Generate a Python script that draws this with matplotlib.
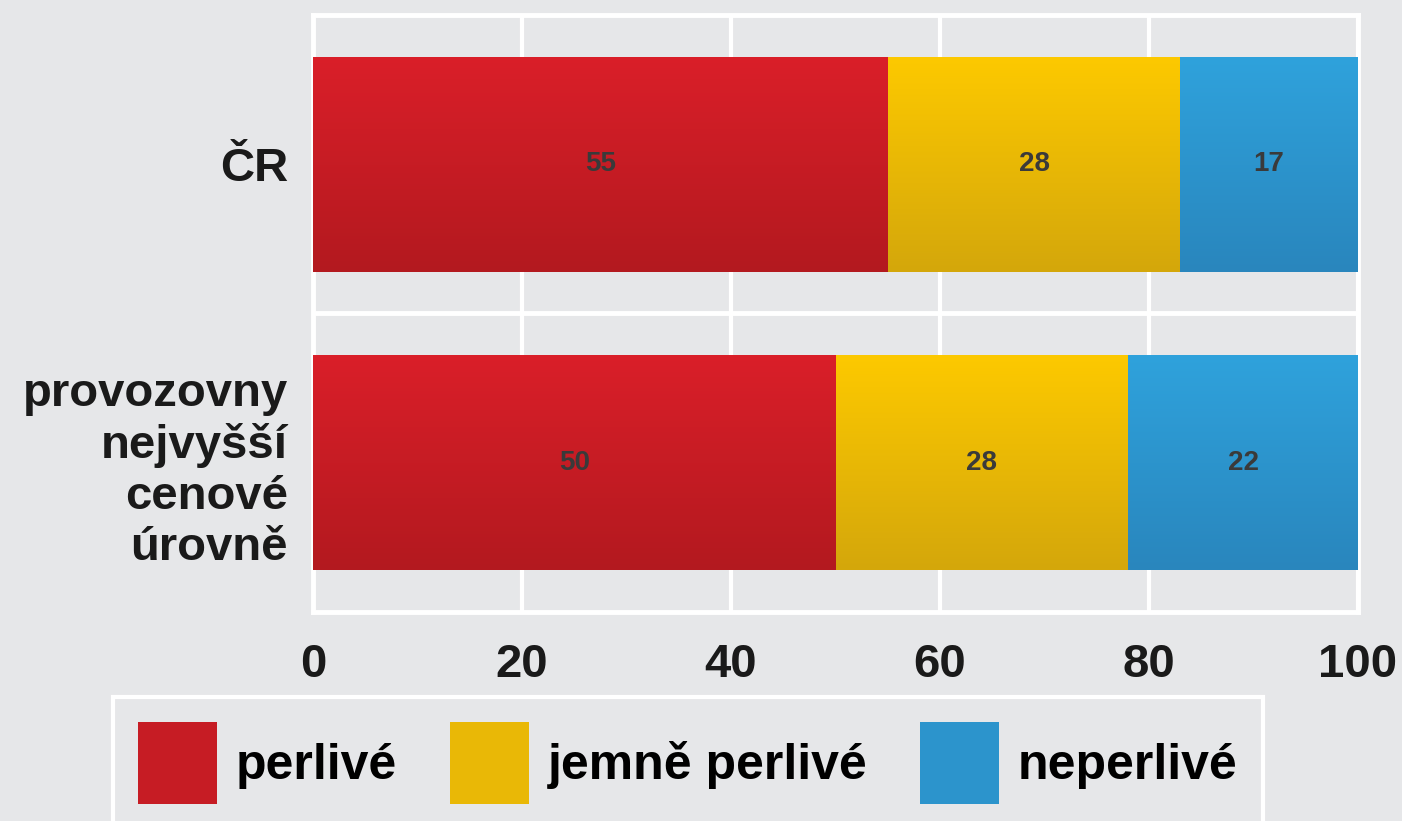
import numpy as np
import matplotlib.pyplot as plt
import matplotlib.colors as mcolors
from matplotlib.patches import Patch

categories = ['provozovny\nnejvyšší\ncenové\núrovně', 'ČR']
perlive = [50, 55]
jemne = [28, 28]
neperlive = [22, 17]
series_names = ['perlivé', 'jemně perlivé', 'neperlivé']
ticks = [0, 20, 40, 60, 80, 100]

# top / bottom colours of the gradients
grad = [('#da1f29', '#b3191f'), ('#fdc900', '#d4a70b'), ('#2fa2dc', '#2986bd')]
bg = '#e6e7e9'

plt.rcParams['font.family'] = ['Liberation Sans', 'DejaVu Sans']

fig = plt.figure(figsize=(14.02, 8.21), dpi=100, facecolor=bg)
ax = fig.add_axes([313/1402, 1-612/821, 1045/1402, 597/821])
ax.set_facecolor(bg)

y = np.arange(len(categories))
left = np.zeros(len(categories))
for vals, (c1, c2), name in zip([perlive, jemne, neperlive], grad, series_names):
    bars = ax.barh(y, vals, left=left, height=0.72, color=c1, edgecolor='none', zorder=3)
    cmap = mcolors.LinearSegmentedColormap.from_list('g', [c2, c1])
    g = np.linspace(0, 1, 256).reshape(-1, 1)
    for b, v in zip(bars, vals):
        x0, y0 = b.get_x(), b.get_y()
        w, h = b.get_width(), b.get_height()
        im = ax.imshow(g, cmap=cmap, aspect='auto', origin='lower',
                       extent=[x0, x0 + w, y0, y0 + h], zorder=4)
        im.set_clip_path(b)
        ax.text(x0 + w/2, y0 + h/2, str(v), ha='center', va='center',
                fontsize=20, fontweight='bold', color='#3a3a3a', zorder=5)
    left += np.array(vals)

ax.set_xlim(0, 100)
ax.set_ylim(-0.5, 1.5)
ax.set_xticks(ticks)
ax.set_yticks(y)
ax.set_yticklabels(categories, linespacing=1.2)
ax.tick_params(length=0, labelsize=34)
ax.tick_params(axis='x', pad=22)
ax.tick_params(axis='y', pad=18)
for lab in ax.get_xticklabels() + ax.get_yticklabels():
    lab.set_fontweight('bold')
    lab.set_color('#1a1a1a')
ax.grid(axis='x', color='white', linewidth=3, zorder=1)
ax.axhline(0.5, color='white', linewidth=3.5, zorder=1)
for s in ax.spines.values():
    s.set_color('white')
    s.set_linewidth(3.5)
    s.set_zorder(2)

handles = [Patch(facecolor=mcolors.to_hex(np.mean([mcolors.to_rgb(c1), mcolors.to_rgb(c2)], axis=0)),
                 edgecolor='none') for c1, c2 in grad]
leg = fig.legend(handles, series_names, loc='upper left', bbox_to_anchor=(113/1402, 1-697/821),
                 ncol=3, prop={'weight': 'bold', 'size': 36}, borderaxespad=0,
                 handlelength=1.58, handleheight=2.15, handletextpad=0.38, columnspacing=1.05,
                 borderpad=0.5, fancybox=False, framealpha=1, facecolor=bg, edgecolor='white')
leg.get_frame().set_linewidth(3)

fig.savefig('out.png', dpi=100, facecolor=bg)
